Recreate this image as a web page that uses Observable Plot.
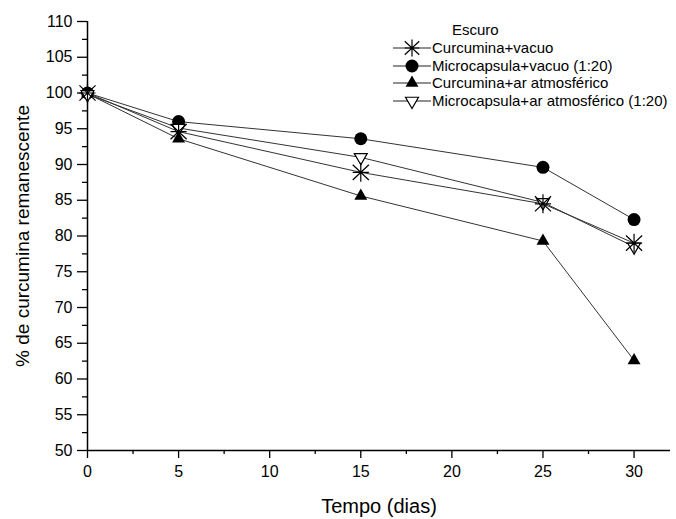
<!DOCTYPE html>
<html><head><meta charset="utf-8">
<script src="https://cdn.jsdelivr.net/npm/d3@7"></script>
<script src="https://cdn.jsdelivr.net/npm/@observablehq/plot@0.6"></script>
<style>
body{margin:0;background:#fff;font-family:"Liberation Sans",Arial,sans-serif;}
#wrap{position:relative;width:676px;height:519px;overflow:hidden;}
.lg{position:absolute;font-size:15px;line-height:16px;white-space:nowrap;color:#000;}
.lgs{position:absolute;}
</style></head><body><div id="wrap"></div>
<script>
// ---- data ----
const days = [0, 5, 15, 25, 30];
const seriesNames = ["Curcumina+vacuo", "Microcapsula+vacuo (1:20)", "Curcumina+ar atmosférico", "Microcapsula+ar atmosférico (1:20)"];
const curcuminaVacuo = [100.0, 94.6, 88.9, 84.5, 79.0];
const microcapsulaVacuo = [100.0, 96.0, 93.6, 89.6, 82.3];
const curcuminaAr = [99.9, 93.6, 85.6, 79.3, 62.6];
const microcapsulaAr = [99.8, 95.1, 91.0, 84.7, 78.5];
const xTicks = [0, 5, 10, 15, 20, 25, 30];
const xMinor = [2.5, 7.5, 12.5, 17.5, 22.5, 27.5];
const yTicks = [50, 55, 60, 65, 70, 75, 80, 85, 90, 95, 100, 105, 110];
const yMinor = [52.5, 57.5, 62.5, 67.5, 72.5, 77.5, 82.5, 87.5, 92.5, 97.5, 102.5, 107.5];
const legendTitle = "Escuro";
const xLabel = "Tempo (dias)";
const yLabel = "% de curcumina remanescente";

const seriesValues = [curcuminaVacuo, microcapsulaVacuo, curcuminaAr, microcapsulaAr];
const rows = seriesNames.flatMap((name, i) => days.map((d, j) => ({day: d, val: seriesValues[i][j], series: name})));
const bySeries = i => rows.filter(r => r.series === seriesNames[i]);

const asterisk = {
  draw(ctx, size) {
    const r = Math.sqrt(size / Math.PI);
    const h = r * 0.85, v = r;
    ctx.moveTo(-h, 0); ctx.lineTo(h, 0);
    ctx.moveTo(0, -v); ctx.lineTo(0, v);
    ctx.moveTo(-h, -v * 0.8); ctx.lineTo(h, v * 0.8);
    ctx.moveTo(-h, v * 0.8); ctx.lineTo(h, -v * 0.8);
  }
};

const F = "Liberation Sans, Arial, sans-serif";
const chart = Plot.plot({
  width: 676, height: 519,
  marginLeft: 87, marginRight: 6, marginTop: 21, marginBottom: 69,
  style: {fontFamily: F, background: "#fff", color: "#000"},
  x: {domain: [0, 32]},
  y: {domain: [50, 110]},
  marks: [
    Plot.axisX(xMinor, {tickSize: 4, tickFormat: () => "", label: null, strokeWidth: 1.3}),
    Plot.axisX(xTicks, {tickSize: 8, tickPadding: 7, fontSize: 16, label: null, strokeWidth: 1.3}),
    Plot.axisY(yMinor, {tickSize: 5, tickFormat: () => "", label: null, strokeWidth: 1.3}),
    Plot.axisY(yTicks, {tickSize: 10, tickPadding: 5, fontSize: 16, label: null, strokeWidth: 1.3}),
    Plot.ruleX([0], {y1: 50, y2: 110, stroke: "#000", strokeWidth: 1.5}),
    Plot.ruleY([50], {x1: 0, x2: 32, stroke: "#000", strokeWidth: 1.5}),
    Plot.line(rows, {x: "day", y: "val", z: "series", stroke: "#333", strokeWidth: 1}),
    Plot.dot(bySeries(1), {x: "day", y: "val", symbol: "circle", r: 6.5, fill: "#000"}),
    Plot.dot(bySeries(2), {x: "day", y: "val", symbol: "triangle", r: 4.8, fill: "#000"}),
    Plot.dot(bySeries(3), {x: "day", y: "val", symbol: "triangle", r: 4.8, fill: "#fff", stroke: "#000", strokeWidth: 1.2, rotate: 180}),
    Plot.dot(bySeries(0), {x: "day", y: "val", symbol: asterisk, r: 9.5, fill: "none", stroke: "#000", strokeWidth: 1.2}),
    Plot.text([yLabel], {frameAnchor: "left", textAnchor: "middle", dx: -65, rotate: -90, fontSize: 19, fill: "#000"}),
    Plot.text([xLabel], {frameAnchor: "bottom", textAnchor: "middle", dy: 62, fontSize: 20, fill: "#000"})
  ]
});
const wrap = document.getElementById("wrap");
wrap.appendChild(chart);

// ---- legend ----
function addText(txt, left, cy) {
  const d = document.createElement("div");
  d.className = "lg"; d.textContent = txt;
  d.style.left = left + "px"; d.style.top = (cy - 8) + "px";
  wrap.appendChild(d);
}
const symDefs = [
  {path: null},
  {path: d3.symbol(d3.symbolCircle, 6.5 * 6.5 * Math.PI)(), fill: "#000", stroke: "none"},
  {path: d3.symbol(d3.symbolTriangle, 4.8 * 4.8 * Math.PI)(), fill: "#000", stroke: "none"},
  {path: d3.symbol(d3.symbolTriangle, 4.8 * 4.8 * Math.PI)(), fill: "#fff", stroke: "#000", rot: 180}
];
addText(legendTitle, 452, 30);
const rowY = [48, 65.5, 83, 100.5];
seriesNames.forEach((name, i) => {
  const cy = rowY[i];
  const svg = d3.create("svg").attr("class", "lgs").attr("width", 40).attr("height", 22)
    .style("left", "392px").style("top", (cy - 11) + "px");
  svg.append("line").attr("x1", 1).attr("x2", 39).attr("y1", 11).attr("y2", 11).attr("stroke", "#222").attr("stroke-width", 1.2);
  const g = svg.append("g").attr("transform", `translate(20,11)`);
  if (i === 0) {
    const p = d3.path(); asterisk.draw(p, 9.5 * 9.5 * Math.PI * 0.8);
    g.append("path").attr("d", p.toString()).attr("stroke", "#000").attr("fill", "none").attr("stroke-width", 1.2);
  } else {
    const s = symDefs[i];
    g.append("path").attr("d", s.path).attr("fill", s.fill).attr("stroke", s.stroke).attr("stroke-width", 1.2)
      .attr("transform", s.rot ? "rotate(180)" : null);
  }
  wrap.appendChild(svg.node());
  addText(name, 432, cy);
});
</script></body></html>
